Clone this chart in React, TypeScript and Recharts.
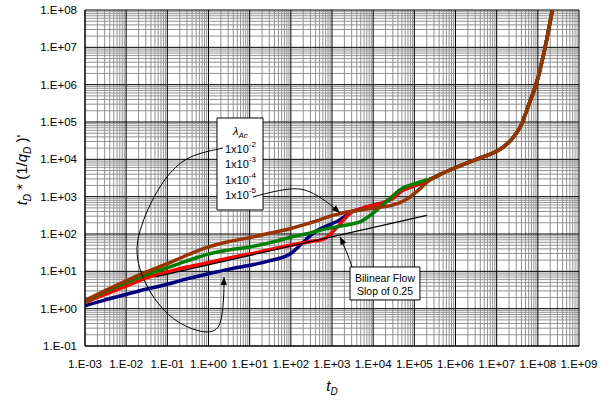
import React from "react"
import {
  LineChart,
  Line,
  XAxis,
  YAxis,
  CartesianGrid,
  ReferenceArea
} from "recharts"

const FONT = "'Liberation Sans', Arial, sans-serif"

// dimensionless time samples shared by the four type curves
const tD = [
  1e-3, 3e-3, 1e-2, 3e-2, 0.1, 0.3, 1, 3, 10, 30,
  100, 200, 300, 500, 700, 1e3, 1.5e3, 2e3, 3e3, 5e3,
  7e3, 1e4, 1.5e4, 2e4, 3e4, 5e4, 7e4, 1e5, 1.5e5, 2e5,
  3e5, 5e5, 1e6, 2e6, 5e6, 1e7, 1.5e7, 2e7, 3e7, 4e7,
  5e7, 6e7, 8e7, 1e8, 1.3e8, 1.6e8, 1.9e8, 2.25e8
]

// every curve collapses onto the same boundary-dominated trend at late time
const lateTime = [
  3250, 4300, 6000, 8200, 12000, 16500, 22000, 29000, 50000, 85000,
  164000, 286000, 680000, 1.47e6, 4.9e6, 1.39e7, 3.7e7, 1e8
]

const blueCurve = [
  1.2, 1.7, 2.4, 3.3, 4.5, 6.3, 8.6, 11.3, 14.5, 19,
  30, 60, 92, 135, 160, 190, 235, 290, 390, 470,
  530, 590, 660, 730, 900, 1450, 1700, 1950, 2350, 2700,
  ...lateTime
]

const redCurve = [
  1.45, 2.4, 4.0, 6.6, 9.6, 13, 17, 22.5, 29, 38,
  50, 58, 63, 68, 78, 110, 175, 250, 390, 470,
  530, 590, 660, 730, 900, 1450, 1700, 1950, 2350, 2700,
  ...lateTime
]

const greenCurve = [
  1.55, 2.8, 5.0, 8.0, 12.5, 19, 29, 37, 45, 58,
  82, 97, 107, 125, 137, 148, 160, 170, 185, 215,
  270, 360, 540, 700, 1050, 1650, 1950, 2200, 2550, 2800,
  ...lateTime
]

const brownCurve = [
  1.65, 3.0, 5.6, 9.5, 16, 27, 45, 62, 80, 105,
  140, 175, 200, 240, 275, 310, 345, 375, 405, 440,
  465, 490, 520, 545, 600, 730, 900, 1200, 1800, 2400,
  ...lateTime
]

// quarter-slope bilinear flow reference
const bilinearT = [0.05, 2e5]
const bilinearV = [7.1, 317]

const xTicks = [1e-3, 1e-2, 1e-1, 1, 1e1, 1e2, 1e3, 1e4, 1e5, 1e6, 1e7, 1e8, 1e9]
const yTicks = [1e-1, 1, 1e1, 1e2, 1e3, 1e4, 1e5, 1e6, 1e7, 1e8]

const lambdaLabels = ["-2", "-3", "-4", "-5"]

// leader lines (t, value) from the annotation boxes to the curves
const leaderTop = [
  [2.25, 20100], [0.62, 14800], [0.27, 10200], [0.13, 5200], [0.066, 1930],
  [0.034, 500], [0.0205, 113], [0.0173, 37], [0.0205, 12.3], [0.0303, 4.3],
  [0.056, 1.42], [0.137, 0.5], [0.42, 0.27], [0.97, 0.223], [1.61, 0.268],
  [2.01, 0.44], [2.25, 1.04], [2.38, 2.8], [2.38, 7.05]
]
const leaderLow = [
  [12.1, 980], [41, 1420], [126, 1710], [247, 1510], [510, 980], [945, 598], [1560, 366]
]
const leaderBilinear = [
  [3050, 13.1], [2440, 27.4], [1950, 47.7], [1560, 85]
]

const table = tD.map((x, i) => ({
  x,
  blue: blueCurve[i],
  red: redCurve[i],
  green: greenCurve[i],
  brown: brownCurve[i]
}))
const bilinear = bilinearT.map((x, i) => ({ x, y: bilinearV[i] }))
const toRows = (pts: number[][]) => pts.map(([x, y]) => ({ x, y }))

const decadeMinors = (ticks: number[]) =>
  ticks.slice(0, -1).flatMap(d => [2, 3, 4, 5, 6, 7, 8, 9].map(m => d * m))

const xMinor = decadeMinors(xTicks)
const yMinor = decadeMinors(yTicks)

const sciLabel = (v: number) => {
  const e = Math.round(Math.log10(v))
  return `1.E${e < 0 ? "-" : "+"}${String(Math.abs(e)).padStart(2, "0")}`
}

const vGrid = (vals: number[]) => ({ xAxis, offset }: any) =>
  vals.map(v =>
    typeof xAxis?.scale === "function"
      ? xAxis.scale(v)
      : offset.left + (offset.width * (Math.log10(v) + 3)) / 12
  )
const hGrid = (vals: number[]) => ({ yAxis, offset }: any) =>
  vals.map(v =>
    typeof yAxis?.scale === "function"
      ? yAxis.scale(v)
      : offset.top + (offset.height * (8 - Math.log10(v))) / 9
  )

const arrowTip = (count: number, deg: number) => (p: any) =>
  p.index === count - 1 ? (
    <path
      key={`tip-${p.index}`}
      d="M0,0 L-8,-3.2 L-8,3.2 Z"
      transform={`translate(${p.cx},${p.cy}) rotate(${deg})`}
      fill="#000"
    />
  ) : (
    <g key={`tip-${p.index}`} />
  )

function XTitle({ viewBox }: any) {
  const cx = viewBox.x + viewBox.width / 2
  return (
    <text x={cx} y={391} textAnchor="middle" fontFamily={FONT} fontSize={15} fill="#000">
      <tspan fontStyle="italic">t</tspan>
      <tspan fontStyle="italic" fontSize={10} dy={4}>D</tspan>
    </text>
  )
}

function YTitle({ viewBox }: any) {
  const cy = viewBox.y + viewBox.height / 2 - 8
  return (
    <text
      transform={`translate(27,${cy}) rotate(-90)`}
      textAnchor="middle"
      fontFamily={FONT}
      fontSize={15}
      fill="#000"
    >
      <tspan fontStyle="italic">t</tspan>
      <tspan fontStyle="italic" fontSize={10} dy={4}>D</tspan>
      <tspan dy={-4}>{" * (1/"}</tspan>
      <tspan fontStyle="italic">q</tspan>
      <tspan fontStyle="italic" fontSize={10} dy={4}>D</tspan>
      <tspan dy={-4}>{" )'"}</tspan>
    </text>
  )
}

function LambdaBox({ viewBox }: any) {
  const { x, y } = viewBox
  return (
    <g fontFamily={FONT} fill="#000">
      <text x={x + 16} y={y + 17} fontSize={11}>
        <tspan fontStyle="italic">λ</tspan>
        <tspan fontStyle="italic" fontSize={8} dy={3}>Ac</tspan>
      </text>
      {lambdaLabels.map((p, i) => (
        <text key={p} x={x + 8} y={y + 35 + i * 15.5} fontSize={11}>
          1x10
          <tspan fontSize={8} dy={-6}>{p}</tspan>
        </text>
      ))}
    </g>
  )
}

function BilinearBox({ viewBox }: any) {
  const { x, y, width } = viewBox
  return (
    <g fontFamily={FONT} fill="#000" fontSize={10.5} textAnchor="middle">
      <text x={x + width / 2} y={y + 15}>Bilinear Flow</text>
      <text x={x + width / 2} y={y + 28}>Slop of 0.25</text>
    </g>
  )
}

export default function App() {
  return (
    <div style={{ position: "absolute", left: 0, top: 0, width: 604, height: 400, background: "#fff" }}>
      <LineChart width={604} height={400} data={table} margin={{ top: 10, right: 25, bottom: 0, left: 0 }}>
        <CartesianGrid
          stroke="#929292"
          verticalCoordinatesGenerator={vGrid(xMinor)}
          horizontalCoordinatesGenerator={hGrid(yMinor)}
        />
        <CartesianGrid
          stroke="#000"
          verticalCoordinatesGenerator={vGrid(xTicks)}
          horizontalCoordinatesGenerator={hGrid(yTicks)}
        />
        <XAxis
          type="number"
          dataKey="x"
          scale="log"
          domain={[1e-3, 1e9]}
          ticks={xTicks}
          interval={0}
          allowDataOverflow
          height={54}
          tickSize={0}
          tickMargin={14}
          tickFormatter={sciLabel}
          axisLine={{ stroke: "#000" }}
          tick={{ fill: "#000", fontSize: 11.5, fontFamily: FONT }}
          label={<XTitle />}
        />
        <YAxis
          type="number"
          scale="log"
          domain={[0.1, 1e8]}
          ticks={yTicks}
          interval={0}
          allowDataOverflow
          width={85}
          tickSize={0}
          tickMargin={8}
          tickFormatter={sciLabel}
          axisLine={{ stroke: "#000" }}
          tick={{ fill: "#000", fontSize: 11.5, fontFamily: FONT }}
          label={<YTitle />}
        />
        <ReferenceArea
          x1={1.61}
          x2={21.1}
          y1={440}
          y2={128000}
          fill="#fff"
          fillOpacity={1}
          stroke="#000"
          strokeWidth={1}
          label={<LambdaBox />}
        />
        <ReferenceArea
          x1={2740}
          x2={137000}
          y1={1.71}
          y2={13.1}
          fill="#fff"
          fillOpacity={1}
          stroke="#000"
          strokeWidth={1}
          label={<BilinearBox />}
        />
        <Line dataKey="blue" type="monotone" stroke="#000080" strokeWidth={3.5} dot={false} isAnimationActive={false} />
        <Line dataKey="red" type="monotone" stroke="#ff0000" strokeWidth={3.5} dot={false} isAnimationActive={false} />
        <Line dataKey="green" type="monotone" stroke="#008000" strokeWidth={3.5} dot={false} isAnimationActive={false} />
        <Line dataKey="brown" type="monotone" stroke="#993300" strokeWidth={3.5} dot={false} isAnimationActive={false} />
        <Line data={bilinear} dataKey="y" type="linear" stroke="#000" strokeWidth={1.3} dot={false} isAnimationActive={false} />
        <Line
          data={toRows(leaderTop)}
          dataKey="y"
          type="basis"
          stroke="#000"
          strokeWidth={1}
          dot={arrowTip(leaderTop.length, -88)}
          isAnimationActive={false}
        />
        <Line
          data={toRows(leaderLow)}
          dataKey="y"
          type="basis"
          stroke="#000"
          strokeWidth={1}
          dot={arrowTip(leaderLow.length, 42)}
          isAnimationActive={false}
        />
        <Line
          data={toRows(leaderBilinear)}
          dataKey="y"
          type="basis"
          stroke="#000"
          strokeWidth={1}
          dot={arrowTip(leaderBilinear.length, -116)}
          isAnimationActive={false}
        />
      </LineChart>
    </div>
  )
}
